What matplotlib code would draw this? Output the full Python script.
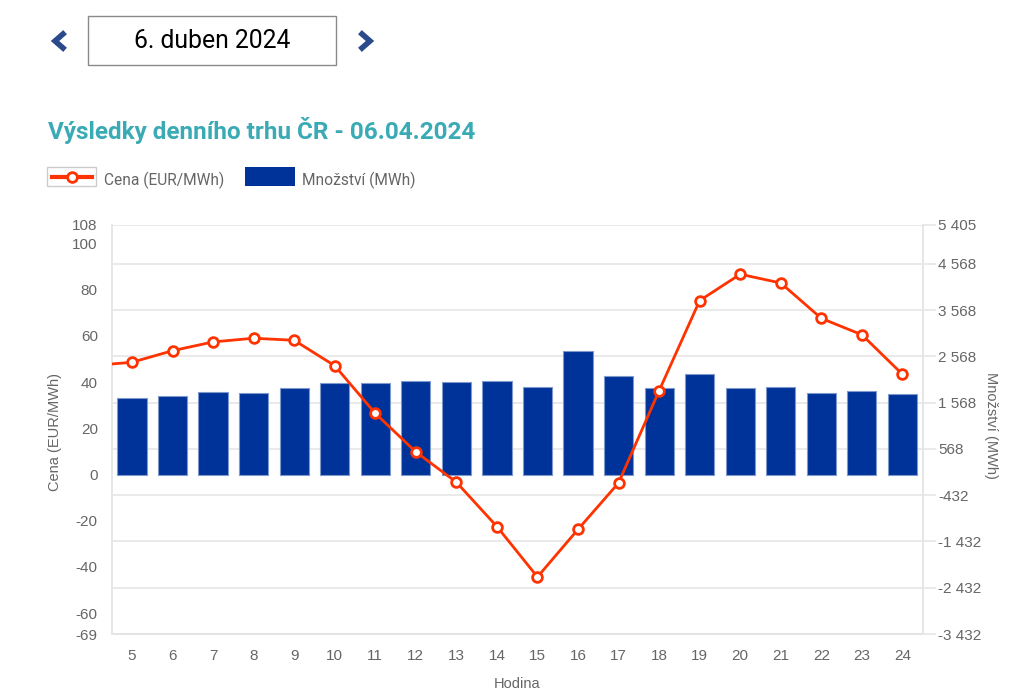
import matplotlib.pyplot as plt
from matplotlib.lines import Line2D
from matplotlib.patches import Rectangle
from matplotlib.ticker import FuncFormatter

plt.rcParams['font.family'] = ['Roboto', 'DejaVu Sans']
plt.rcParams['axes.unicode_minus'] = False

# hodiny (4 je mimo okno grafu, je vidět jen začátek čáry)
hours = list(range(4, 25))
price = [47.1, 48.6, 53.6, 57.4, 59.0, 58.1, 47.1, 26.5, 9.8, -3.3, -22.5,
         -44.3, -23.7, -3.6, 36.3, 75.3, 86.7, 82.9, 67.6, 60.5, 43.4]
bar_hours = list(range(5, 25))
volume = [1661, 1718, 1798, 1769, 1877, 1985, 1985, 2042, 2014, 2042,
          1906, 2690, 2150, 1877, 2180, 1877, 1906, 1769, 1826, 1748]

left_ticks = [-69, -60, -40, -20, 0, 20, 40, 60, 80, 100, 108]
right_ticks = [-3432, -2432, -1432, -432, 568, 1568, 2568, 3568, 4568, 5405]

W, H = 1025, 700
grey = '#666666'
light = '#e6e6e6'
red = '#ff3300'
blue = '#003399'
tickfont = 'Liberation Sans'

fig = plt.figure(figsize=(W / 100, H / 100), dpi=100)
ax = fig.add_axes([111.7 / W, 1 - 634 / H, 811 / W, 409 / H])
ax2 = ax.twinx()

# sloupce - množství (pravá osa)
ax2.bar(bar_hours, volume, width=0.72, color=blue, edgecolor='#7f99cc',
        linewidth=0.8, zorder=2)
ax2.set_ylim(-3432, 5405)
ax2.set_yticks(right_ticks)
ax2.yaxis.set_major_formatter(FuncFormatter(lambda v, p: f'{int(v):,}'.replace(',', ' ')))
ax2.grid(axis='y', color=light, linewidth=1.2, zorder=0)
ax2.set_axisbelow(True)
ax2.tick_params(axis='y', colors=light, labelcolor=grey, labelsize=11,
                length=9, width=1.2, pad=2)

# čára - cena (levá osa)
ax.set_zorder(ax2.get_zorder() + 1)
ax.patch.set_visible(False)
ax.plot(hours, price, color=red, linewidth=2, marker='o', markersize=7,
        markerfacecolor='white', markeredgecolor=red, markeredgewidth=2,
        zorder=3, clip_on=True)
ax.set_ylim(-69, 108)
ax.set_yticks(left_ticks)
ax.set_xlim(4.5, 24.5)
ax.set_xticks(bar_hours)
ax.tick_params(axis='y', length=0, labelcolor=grey, labelsize=11, pad=10)
ax.tick_params(axis='x', length=0, labelcolor=grey, labelsize=11, pad=11)

for lab in ax.get_xticklabels() + ax.get_yticklabels() + ax2.get_yticklabels():
    lab.set_family(tickfont)

for a in (ax, ax2):
    for s in a.spines.values():
        s.set_color(light)
        s.set_linewidth(1.2)
    a.spines['top'].set_visible(False)
ax2.spines['bottom'].set_color('#d8d8d8')

fig.text(55 / W, 1 - 432 / H, 'Cena (EUR/MWh)', rotation=90, color=grey,
         fontsize=10.5, ha='center', va='center', family=tickfont)
fig.text(991 / W, 1 - 425 / H, 'Množství (MWh)', rotation=270, color=grey,
         fontsize=10.5, ha='center', va='center', family=tickfont)
fig.text(517 / W, 1 - 684 / H, 'Hodina', color=grey, fontsize=10.5,
         ha='center', va='center', family=tickfont)

# titulek
fig.text(48 / W, 1 - 131 / H, 'Výsledky denního trhu ČR - 06.04.2024',
         color='#3aabb5', fontsize=17.5, fontweight='bold', va='center')

# legenda
fig.add_artist(Rectangle((47 / W, 1 - 186 / H), 49 / W, 19 / H,
                         transform=fig.transFigure, facecolor='white',
                         edgecolor='#cccccc', linewidth=1))
fig.add_artist(Line2D([52 / W, 92 / W], [1 - 177 / H, 1 - 177 / H],
                      transform=fig.transFigure, color=red, linewidth=3))
fig.add_artist(Line2D([72 / W], [1 - 177 / H], transform=fig.transFigure,
                      marker='o', markersize=7, markerfacecolor='white',
                      markeredgecolor=red, markeredgewidth=2))
fig.text(104 / W, 1 - 180 / H, 'Cena (EUR/MWh)', color=grey, fontsize=11.2,
         va='center')
fig.add_artist(Rectangle((245 / W, 1 - 186 / H), 50 / W, 19 / H,
                         transform=fig.transFigure, facecolor=blue,
                         edgecolor='none'))
fig.text(302 / W, 1 - 180 / H, 'Množství (MWh)', color=grey, fontsize=11.2,
         va='center')

# výběr data nahoře
fig.add_artist(Rectangle((88 / W, 1 - 65 / H), 248 / W, 49 / H,
                         transform=fig.transFigure, facecolor='white',
                         edgecolor='#8a8a8a', linewidth=1))
fig.text(212 / W, 1 - 41 / H, '6. duben 2024', color='black', fontsize=17.8,
         ha='center', va='center')
nav = '#2b4a8c'
fig.add_artist(Line2D([63 / W, 55 / W, 63 / W], [1 - 34 / H, 1 - 41 / H, 1 - 48 / H],
                      transform=fig.transFigure, color=nav, linewidth=4,
                      solid_joinstyle='miter'))
fig.add_artist(Line2D([362 / W, 370 / W, 362 / W], [1 - 34 / H, 1 - 41 / H, 1 - 48 / H],
                      transform=fig.transFigure, color=nav, linewidth=4,
                      solid_joinstyle='miter'))

fig.savefig('out.png', dpi=100, facecolor='white')
